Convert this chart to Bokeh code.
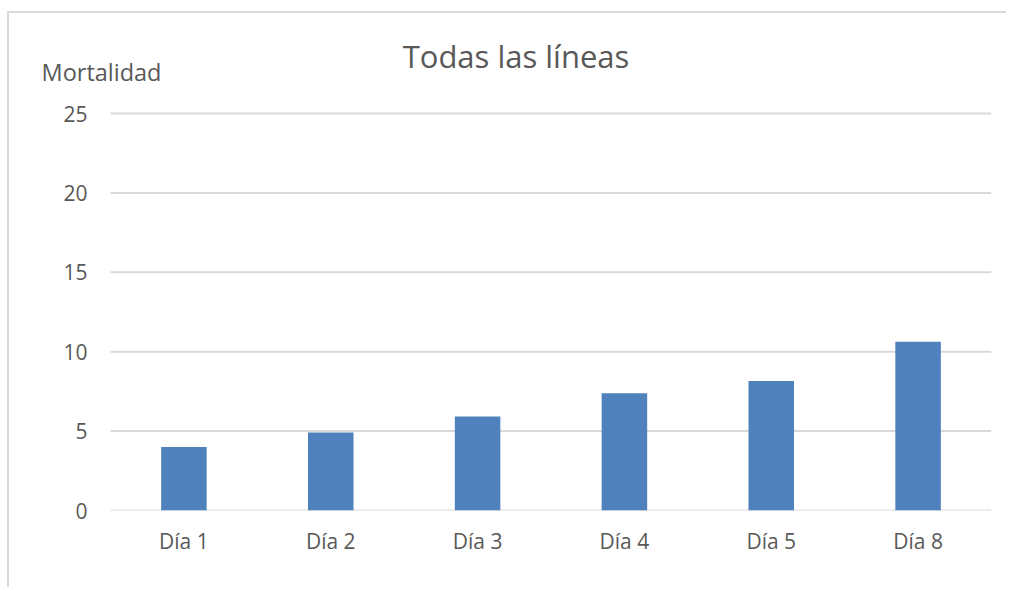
from bokeh.plotting import figure
from bokeh.models import ColumnDataSource, Range1d, FixedTicker, Label
from bokeh.embed import file_html
from bokeh.resources import INLINE

# Data
categories = ["Día 1", "Día 2", "Día 3", "Día 4", "Día 5", "Día 8"]
mortalidad = [4.0, 4.91, 5.92, 7.39, 8.15, 10.63]
y_ticks = [0, 5, 10, 15, 20, 25]
title_text = "Todas las líneas"
y_label_text = "Mortalidad"

FONT = "Open Sans"
TEXT_COLOR = "#595959"
GRID_COLOR = "#D9D9D9"
BAR_COLOR = "#4F81BD"

# category slots on a numeric axis (one unit per category)
x_pos = [i + 0.5 for i in range(len(categories))]
source = ColumnDataSource(data=dict(x=x_pos, cat=categories, val=mortalidad))
grid_src = ColumnDataSource(data=dict(
    x0=[0] * len(y_ticks), x1=[len(categories)] * len(y_ticks), y=y_ticks))

# frame extended left/up so the title and axis label sit inside it
p = figure(
    x_range=Range1d(-0.4836, len(categories)),
    y_range=Range1d(0, 30.23),
    width=999, height=576,
    output_backend="svg",
    toolbar_location=None,
    min_border_left=30, min_border_right=17,
    min_border_top=17, min_border_bottom=79,
)
p.styles = {
    "border-top": "2px solid #d9d9d9",
    "border-left": "2px solid #d9d9d9",
    "margin-top": "11px",
    "margin-left": "7px",
}
p.outline_line_color = None

# horizontal gridlines across the category area only
p.segment(x0="x0", x1="x1", y0="y", y1="y", source=grid_src,
          line_color=GRID_COLOR, line_width=2)

p.vbar(x="x", top="val", width=0.31, source=source,
       fill_color=BAR_COLOR, line_color=None)

# Y axis
p.yaxis.ticker = FixedTicker(ticks=y_ticks)
p.yaxis.axis_line_color = None
p.yaxis.major_tick_line_color = None
p.yaxis.minor_tick_line_color = None
p.yaxis.major_tick_out = 0
p.yaxis.major_tick_in = 0
p.yaxis.major_label_standoff = -48
p.yaxis.major_label_text_font = FONT
p.yaxis.major_label_text_font_size = "21px"
p.yaxis.major_label_text_color = TEXT_COLOR

# X axis
p.xaxis.ticker = FixedTicker(ticks=x_pos)
p.xaxis.major_label_overrides = {x: c for x, c in zip(x_pos, categories)}
p.xaxis.axis_line_color = None
p.xaxis.major_tick_line_color = None
p.xaxis.minor_tick_line_color = None
p.xaxis.major_tick_out = 0
p.xaxis.major_tick_in = 0
p.xaxis.major_label_standoff = 16
p.xaxis.major_label_text_font = FONT
p.xaxis.major_label_text_font_size = "21px"
p.xaxis.major_label_text_color = TEXT_COLOR

p.xgrid.grid_line_color = None
p.ygrid.grid_line_color = None

# Title as label
p.add_layout(Label(x=3, y=25, x_offset=-35, y_offset=58, text=title_text,
                   text_align="center", text_baseline="alphabetic",
                   text_font=FONT, text_font_size="31px",
                   text_color=TEXT_COLOR))
# Axis label (horizontal, top-left)
p.add_layout(Label(x=0, y=25, x_offset=-69, y_offset=42, text=y_label_text,
                   text_align="left", text_baseline="alphabetic",
                   text_font=FONT, text_font_size="23.5px",
                   text_color=TEXT_COLOR))

open("out.html", "w").write(file_html(p, INLINE))
